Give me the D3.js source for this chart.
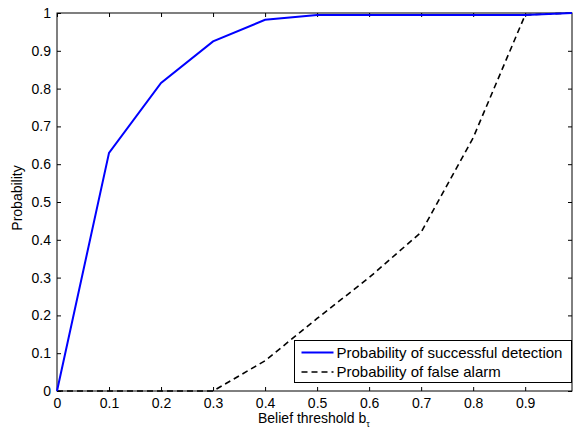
<!DOCTYPE html>
<html>
<head>
<meta charset="utf-8">
<script src="https://cdn.jsdelivr.net/npm/d3@7"></script>
<style>
  body { margin: 0; background: #fff; }
  text { font-family: "Liberation Sans", Arial, sans-serif; }
</style>
</head>
<body>
<div id="svg"></div>
<script>
const thresholds = [0, 0.1, 0.2, 0.3, 0.4, 0.5, 0.6, 0.7, 0.8, 0.9, 0.99];
const detection = [0, 0.63, 0.815, 0.925, 0.982, 0.995, 0.995, 0.995, 0.995, 0.995, 1];
const falseAlarm = [0, 0, 0, 0, 0.08, 0.192, 0.30, 0.42, 0.67, 0.995, 1];
const xTicks = [0, 0.1, 0.2, 0.3, 0.4, 0.5, 0.6, 0.7, 0.8, 0.9];
const yTicks = [0, 0.1, 0.2, 0.3, 0.4, 0.5, 0.6, 0.7, 0.8, 0.9, 1];
const seriesNames = ["Probability of successful detection", "Probability of false alarm"];

const width = 573,
      height = 431;
const margin = {top: 13, right: 1, bottom: 40, left: 57};
const iw = width - margin.left - margin.right,
      ih = height - margin.top - margin.bottom;

const svg = d3.select("#svg")
  .append("svg")
    .attr("width", width)
    .attr("height", height);

const g = svg.append("g")
    .attr("transform", `translate(${margin.left},${margin.top})`);

const x = d3.scaleLinear().domain([0, 0.99]).range([0, iw]);
const y = d3.scaleLinear().domain([0, 1]).range([ih, 0]);

// frame
g.append("rect")
    .attr("width", iw).attr("height", ih)
    .attr("fill", "none").attr("stroke", "#000").attr("stroke-width", 1);

// ticks point inward
const fmt = d => d === 0 ? "0" : d === 1 ? "1" : d3.format(".1f")(d);
const styleText = a => a.selectAll("text")
    .attr("font-size", 14)
    .attr("font-family", "Liberation Sans, Arial, sans-serif")
    .attr("fill", "#000");

g.append("g")
    .attr("transform", `translate(0,${ih})`)
    .call(d3.axisBottom(x).tickValues(xTicks).tickFormat(fmt).tickSizeInner(-4).tickSizeOuter(0).tickPadding(7))
    .call(a => a.select(".domain").remove())
    .call(styleText);

g.append("g")
    .call(d3.axisTop(x).tickValues(xTicks).tickFormat("").tickSizeInner(-4).tickSizeOuter(0))
    .call(a => a.select(".domain").remove());

g.append("g")
    .call(d3.axisLeft(y).tickValues(yTicks).tickFormat(fmt).tickSizeInner(-4).tickSizeOuter(0).tickPadding(6))
    .call(a => a.select(".domain").remove())
    .call(styleText);

g.append("g")
    .attr("transform", `translate(${iw},0)`)
    .call(d3.axisRight(y).tickValues(yTicks).tickFormat("").tickSizeInner(-4).tickSizeOuter(0))
    .call(a => a.select(".domain").remove());

const line = vals => d3.line()
    .x((d, i) => x(thresholds[i]))
    .y(d => y(d))(vals);

g.append("path")
    .attr("d", line(falseAlarm))
    .attr("fill", "none")
    .attr("stroke", "#000")
    .attr("stroke-width", 1.6)
    .attr("stroke-dasharray", "6,4");

g.append("path")
    .attr("d", line(detection))
    .attr("fill", "none")
    .attr("stroke", "#0000ff")
    .attr("stroke-width", 2);

// legend
const legend = svg.append("g").attr("transform", "translate(294.5,340.5)");
legend.append("rect")
    .attr("width", 277).attr("height", 42)
    .attr("fill", "#fff").attr("stroke", "#000").attr("stroke-width", 1);

const styles = [{stroke: "#0000ff", dash: null, w: 2}, {stroke: "#000", dash: "6,4", w: 1.6}];
seriesNames.forEach((name, i) => {
  const row = legend.append("g").attr("transform", `translate(0,${12 + i * 19.5})`);
  row.append("line")
      .attr("x1", 7).attr("x2", 39)
      .attr("stroke", styles[i].stroke)
      .attr("stroke-width", styles[i].w)
      .attr("stroke-dasharray", styles[i].dash);
  row.append("text")
      .attr("x", 42).attr("dy", "0.35em")
      .attr("font-size", 15)
      .text(name);
});

// axis labels
const xl = svg.append("text")
    .attr("x", 258)
    .attr("y", 423)
    .attr("font-size", 14);
xl.append("tspan").text("Belief threshold b");
xl.append("tspan").attr("font-size", 9).attr("dy", 4).text("τ");

svg.append("text")
    .attr("transform", `translate(22,${margin.top + ih / 2 - 4}) rotate(-90)`)
    .attr("text-anchor", "middle")
    .attr("font-size", 14)
    .text("Probability");
</script>
</body>
</html>
